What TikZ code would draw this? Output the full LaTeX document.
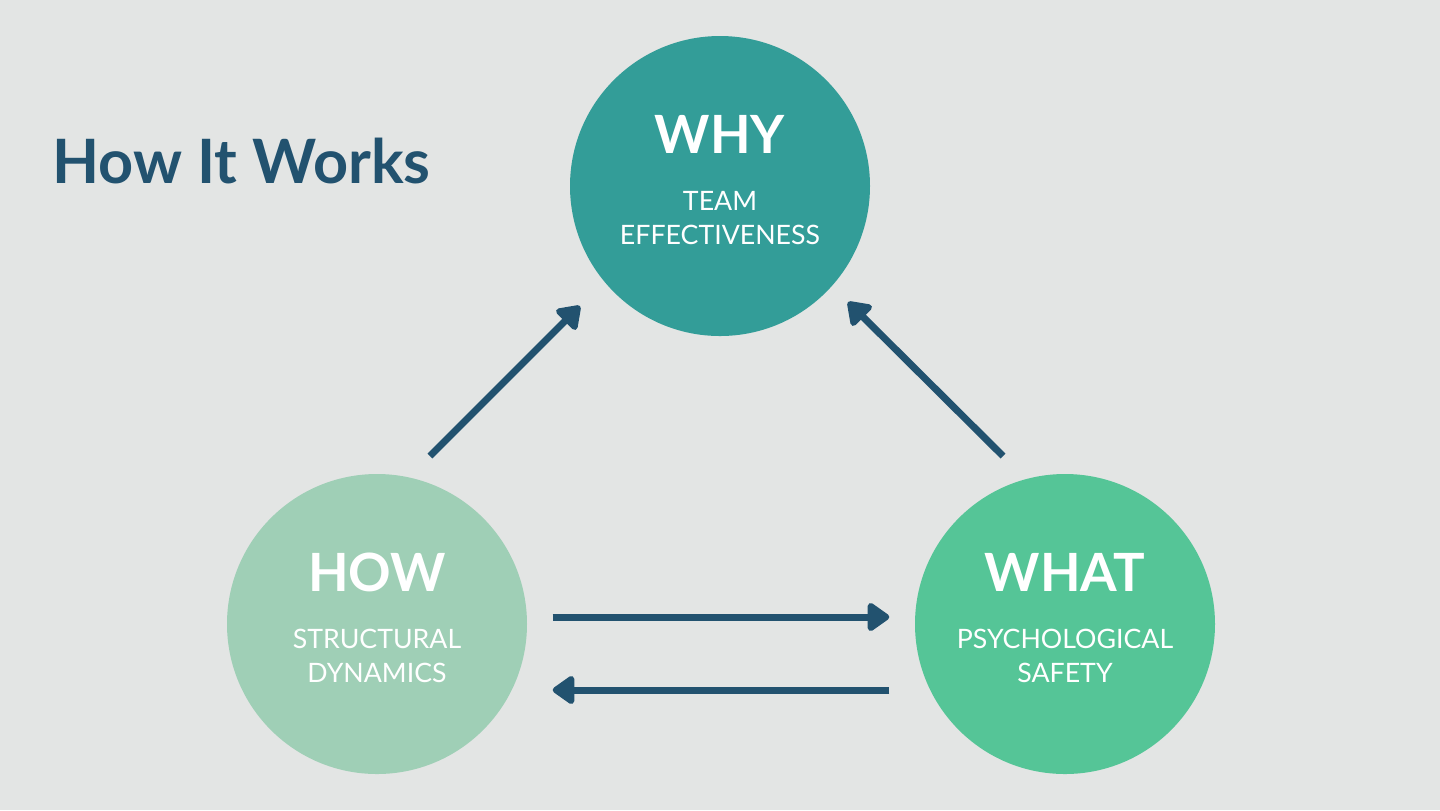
\documentclass[tikz,border=0pt]{standalone}
\usepackage{fontspec}
\setmainfont{Lato}
\usetikzlibrary{arrows.meta,positioning,calc}

\definecolor{bgGrey}{HTML}{E3E5E4}
\definecolor{navy}{HTML}{22526F}
\definecolor{whyTeal}{HTML}{339D98}
\definecolor{howMint}{HTML}{9FCFB6}
\definecolor{whatGreen}{HTML}{55C597}

\begin{document}
\begin{tikzpicture}[
    circ/.style={circle, minimum size=3.0cm, inner sep=0pt},
    head/.style={text=white, font=\fontsize{15}{18}\selectfont\bfseries, inner sep=0pt},
    sub/.style={text=white, align=center, font=\fontsize{7.6}{9.7}\selectfont, inner sep=0pt},
    title/.style={text=navy, font=\fontsize{17.4}{21}\selectfont\bfseries, inner sep=0pt},
    edge/.style={-{Triangle[length=0.24cm, width=0.32cm, round]}, line width=0.07cm, draw=navy},
]

% Background
\fill[bgGrey] (0,0) rectangle (14.4,-8.1);
\useasboundingbox (0,0) rectangle (14.4,-8.1);

\node[title, anchor=base west] (title) at (0.52,-1.83) {How It Works};

% Circles
\node[circ, fill=whyTeal] (why) at (7.20,-1.86) {};
\node[circ, fill=howMint] (how) at (3.77,-6.24) {};
\node[circ, fill=whatGreen] (what) at (10.65,-6.24) {};

% Texts
\node[head] (whyhead) at (7.20,-1.34) {WHY};
\node[sub] (whysub) at (7.20,-2.18) {TEAM\\EFFECTIVENESS};
\node[head] (howhead) at (3.77,-5.72) {HOW};
\node[sub] (howsub) at (3.77,-6.56) {STRUCTURAL\\DYNAMICS};
\node[head] (whathead) at (10.65,-5.72) {WHAT};
\node[sub] (whatsub) at (10.65,-6.56) {PSYCHOLOGICAL\\SAFETY};

% Edges
\draw[edge] ($(how.center)+(0.53,1.68)$) -- ($(why.center)+(-1.40,-1.20)$);
\draw[edge] ($(what.center)+(-0.62,1.68)$) -- ($(why.center)+(1.28,-1.16)$);
\draw[edge, shorten <=0.25cm, shorten >=0.25cm] ([yshift=0.07cm]how.east) -- ([yshift=0.07cm]what.west);
\draw[edge, shorten <=0.25cm, shorten >=0.25cm] ([yshift=-0.66cm]what.west) -- ([yshift=-0.66cm]how.east);

\end{tikzpicture}
\end{document}
